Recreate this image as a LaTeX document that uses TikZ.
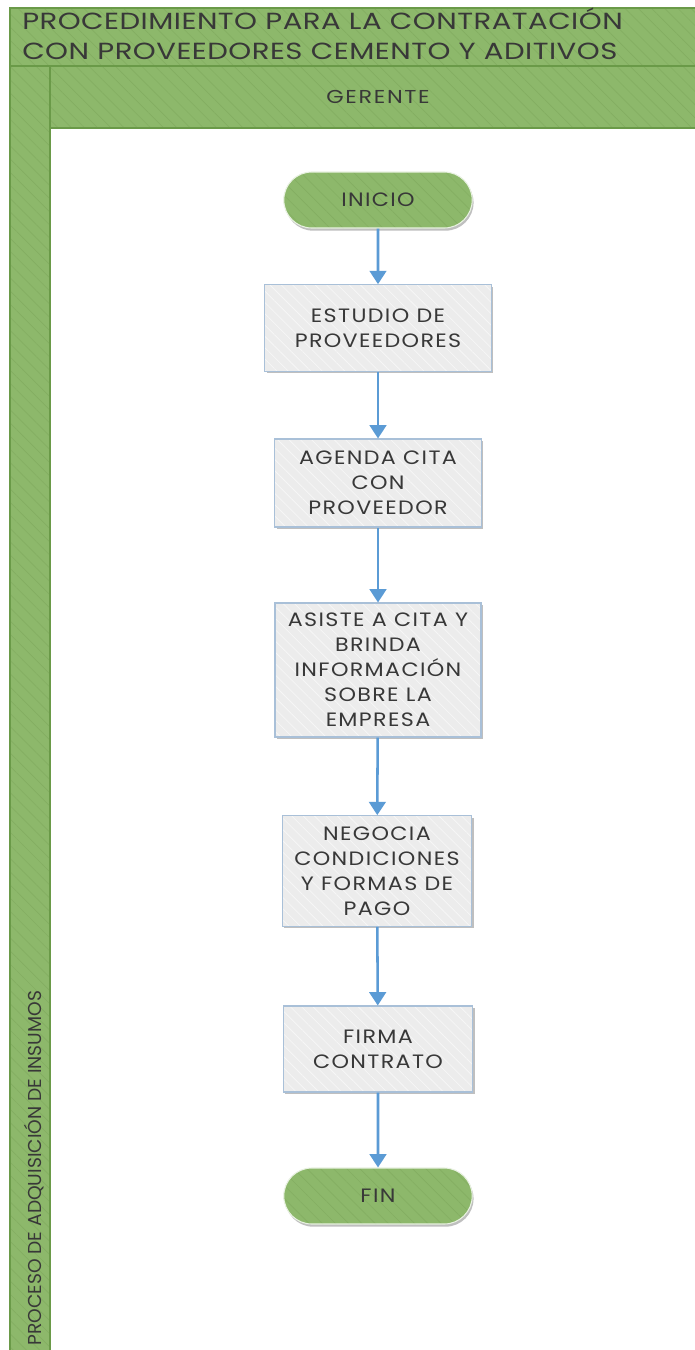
\documentclass[tikz,border=0pt]{standalone}
\usepackage{fontspec}
\setmainfont{Poppins}
\newfontfamily\headfont{Poppins}[FakeStretch=1.25, LetterSpace=2]
\newfontfamily\lanefont{Poppins}[FakeStretch=1.2, LetterSpace=9]
\newfontfamily\stepfont{Poppins}[FakeStretch=1.15, LetterSpace=7]
\usetikzlibrary{shapes.misc, arrows.meta, patterns.meta, shadows}
\definecolor{lanegreen}{HTML}{8DB86B}
\definecolor{lanestripe}{HTML}{84AE62}
\definecolor{laneedge}{HTML}{6A9A48}
\definecolor{boxfill}{HTML}{ECECEC}
\definecolor{boxstripe}{HTML}{F6F6F6}
\definecolor{boxedge}{HTML}{A9C0D8}
\definecolor{flowblue}{HTML}{5B9BD5}
\definecolor{inktext}{HTML}{383838}
\tikzset{
  greenstripes/.style={preaction={pattern={Lines[angle=-45,distance=7pt,line width=0.5pt]},pattern color=lanestripe}},
  boxstripes/.style={preaction={pattern={Lines[angle=-45,distance=6pt,line width=0.6pt]},pattern color=boxstripe}},
  laneband/.style={preaction={fill=lanegreen}, greenstripes, draw=laneedge, line width=1pt},
  terminal/.style={rounded rectangle,
    drop shadow={shadow xshift=1pt, shadow yshift=-2pt, opacity=0.25, fill=black},
    preaction={fill=lanegreen}, greenstripes, draw=white!80!lanegreen, line width=0.8pt,
    minimum width=148pt, minimum height=42pt, text=inktext,
    font=\stepfont\fontsize{14.5}{18}\selectfont},
  taskbox/.style={rectangle,
    drop shadow={shadow xshift=1.5pt, shadow yshift=-1.5pt, opacity=0.25, fill=black},
    preaction={fill=boxfill}, boxstripes, draw=boxedge, line width=0.8pt,
    text=inktext, align=center, inner sep=2pt,
    font=\stepfont\fontsize{14.5}{18.8}\selectfont},
  flow/.style={draw=flowblue, line width=1.9pt, -{Triangle[length=10pt,width=12.5pt]}}
}
\begin{document}
\begin{tikzpicture}[x=0.75pt, y=-0.75pt]
\useasboundingbox (0,0) rectangle (695,1350);
% pool frame: white working area, then the green bands
\fill[white] (0,0) rectangle (695,1350);
\path[laneband] (10,8) rectangle (700,66);
\path[laneband] (10,66) rectangle (50,1360);
\path[laneband] (50,66) rectangle (700,128);

\node[anchor=north west, align=left, text=inktext, inner sep=0pt,
  font=\headfont\fontsize{17.5}{22.5}\selectfont] (title) at (22,8)
  {PROCEDIMIENTO PARA LA CONTRATACIÓN\\CON PROVEEDORES CEMENTO Y ADITIVOS};
\node[text=inktext, font=\lanefont\fontsize{14}{16}\selectfont] (lane) at (378,97) {GERENTE};
\node[rotate=90, anchor=west, text=inktext, inner sep=0pt,
  font=\fontsize{14}{16}\selectfont] (pool) at (34,1346) {PROCESO DE ADQUISICIÓN DE INSUMOS};

% flow nodes
\node[terminal] (inicio) at (378,200) {INICIO};
\node[taskbox, minimum width=170pt, minimum height=65pt] (estudio) at (378,328)
  {ESTUDIO DE\\PROVEEDORES};
\node[taskbox, minimum width=155pt, minimum height=66pt] (agenda) at (378,483)
  {AGENDA CITA\\CON\\PROVEEDOR};
\node[taskbox, minimum width=154.5pt, minimum height=100.5pt] (asiste) at (378,670)
  {ASISTE A CITA Y\\BRINDA\\INFORMACIÓN\\SOBRE LA\\EMPRESA};
\node[taskbox, minimum width=142pt, minimum height=83pt] (negocia) at (377,871)
  {NEGOCIA\\CONDICIONES\\Y FORMAS DE\\PAGO};
\node[taskbox, minimum width=142pt, minimum height=64.5pt] (firma) at (378,1049)
  {FIRMA\\CONTRATO};
\node[terminal] (fin) at (378,1196) {FIN};

% connectors
\draw[flow] (inicio) -- (estudio);
\draw[flow] (estudio) -- (agenda);
\draw[flow] (agenda) -- (asiste);
\draw[flow] (asiste) -- (negocia);
\draw[flow] (negocia) -- (firma);
\draw[flow] (firma) -- (fin);
\end{tikzpicture}
\end{document}
